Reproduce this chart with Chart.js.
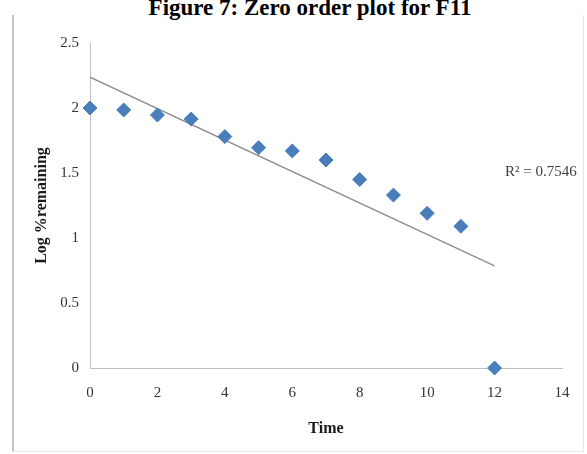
<!DOCTYPE html>
<html lang="en">
<head>
  <meta charset="UTF-8" />
  <title>Zero order plot for F11</title>
  <script src="https://cdn.jsdelivr.net/npm/chart.js"></script>
  <style>
    html, body { margin: 0; padding: 0; background: #fff; }
    body { width: 587px; height: 454px; position: relative; overflow: hidden; font-family: 'Liberation Serif', 'Times New Roman', serif; }
    #frame { position: absolute; left: 12px; top: 15px; width: 569px; height: 436px; border-left: 2px solid #c4c4c4; border-right: 1px solid #e6e6e6; border-bottom: 1px solid #e6e6e6; }
    #title { position: absolute; left: 0; top: -4px; width: 620px; text-align: center; font-weight: bold; font-size: 23px; line-height: 23px; color: #000; white-space: nowrap; }
    canvas { position: absolute; left: 0; top: 0; }
  </style>
</head>
<body>
  <div id="frame"></div>
  <div id="title">Figure 7: Zero order plot for F11</div>
  <canvas id="plot" width="587" height="454"></canvas>

  <script>
    // values
    const timePoints = [0, 1, 2, 3, 4, 5, 6, 7, 8, 9, 10, 11, 12];
    const logRemaining = [2.00, 1.985, 1.946, 1.915, 1.78, 1.695, 1.67, 1.60, 1.45, 1.33, 1.19, 1.09, 0];
    const xTicks = [0, 2, 4, 6, 8, 10, 12, 14];
    const yTicks = [0, 0.5, 1, 1.5, 2, 2.5];
    const r2Label = 'R\u00b2 = 0.7546';

    // least squares trendline over the data
    function fitLine(xs, ys) {
      const n = xs.length;
      const mx = xs.reduce((a, b) => a + b, 0) / n;
      const my = ys.reduce((a, b) => a + b, 0) / n;
      let sxy = 0, sxx = 0;
      xs.forEach((x, i) => { sxy += (x - mx) * (ys[i] - my); sxx += (x - mx) * (x - mx); });
      const slope = sxy / sxx;
      return { slope, intercept: my - slope * mx };
    }
    const fit = fitLine(timePoints, logRemaining);
    const xFirst = timePoints[0], xLast = timePoints[timePoints.length - 1];
    const trend = [
      { x: xFirst, y: fit.intercept + fit.slope * xFirst },
      { x: xLast, y: fit.intercept + fit.slope * xLast }
    ];

    const r2Text = {
      id: 'r2Text',
      afterDatasetsDraw(chart) {
        const ctx = chart.ctx;
        ctx.save();
        ctx.font = '15px "Liberation Serif", serif';
        ctx.fillStyle = '#404040';
        ctx.textBaseline = 'middle';
        ctx.fillText(r2Label, 505, 172);
        ctx.restore();
      }
    };

    const tickFont = { family: "'Liberation Serif', serif", size: 15 };
    const titleFont = { family: "'Liberation Serif', serif", size: 16, weight: 'bold' };

    new Chart(document.getElementById('plot'), {
      type: 'scatter',
      data: {
        datasets: [
          {
            label: 'Log % remaining',
            data: timePoints.map((t, i) => ({ x: t, y: logRemaining[i] })),
            pointStyle: 'rectRot',
            pointRadius: 7,
            pointHoverRadius: 7,
            backgroundColor: '#4a7ebb',
            borderColor: '#4a7ebb',
            borderWidth: 1,
            clip: false,
            order: 0
          },
          {
            type: 'line',
            label: 'Linear trend',
            data: trend,
            borderColor: '#8e8e8e',
            borderWidth: 1.5,
            pointRadius: 0,
            fill: false,
            order: 1
          }
        ]
      },
      options: {
        responsive: false,
        animation: false,
        devicePixelRatio: 1,
        layout: { padding: { top: 43, right: 25, left: 0, bottom: 0 } },
        plugins: { legend: { display: false }, tooltip: { enabled: false } },
        scales: {
          x: {
            type: 'linear',
            min: 0,
            max: 14,
            afterBuildTicks: s => { s.ticks = xTicks.map(v => ({ value: v })); },
            afterFit: s => { s.height = 86; },
            grid: { display: false, drawTicks: false },
            border: { display: true, color: '#bfbfbf', width: 1 },
            ticks: { font: tickFont, color: '#333', padding: 16, maxRotation: 0, callback: v => String(v) },
            title: { display: true, text: 'Time', font: titleFont, color: '#1a1a1a', padding: { top: 0, bottom: 16 } }
          },
          y: {
            type: 'linear',
            min: 0,
            max: 2.5,
            afterBuildTicks: s => { s.ticks = yTicks.map(v => ({ value: v })); },
            afterFit: s => { s.width = 90; },
            grid: { display: false, drawTicks: false },
            border: { display: true, color: '#bfbfbf', width: 1 },
            ticks: { font: tickFont, color: '#333', padding: 11, callback: v => String(v) },
            title: { display: true, text: 'Log %remaining', font: titleFont, color: '#1a1a1a', padding: { top: 32, bottom: 0 } }
          }
        }
      },
      plugins: [r2Text]
    });
  </script>
</body>
</html>
